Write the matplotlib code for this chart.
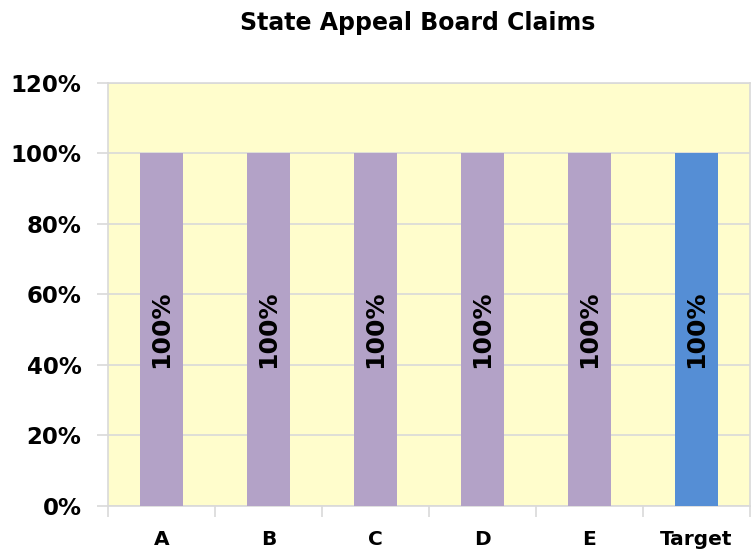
import matplotlib.pyplot as plt
import numpy as np

categories = ["A", "B", "C", "D", "E", "Target"]
values = [100, 100, 100, 100, 100, 100]
bar_colors = ["#B3A2C7", "#B3A2C7", "#B3A2C7", "#B3A2C7", "#B3A2C7", "#558ED5"]
y_ticks = [0, 20, 40, 60, 80, 100, 120]

fig = plt.figure(figsize=(7.53, 5.54), dpi=100)
ax = fig.add_axes([0.1434, 0.0866, 0.8526, 0.7641])
ax.set_facecolor("#FFFDCC")

x = np.arange(len(categories))
bars = ax.bar(x, values, width=0.4, color=bar_colors, zorder=3)

for xi, v in zip(x, values):
    ax.text(xi, v / 2, f"{v}%", rotation=90, ha="center", va="center",
            fontsize=18, fontweight="heavy", color="black", zorder=4)

ax.set_xlim(-0.5, len(categories) - 0.5)
ax.set_ylim(0, 120)
ax.set_yticks(y_ticks)
ax.set_yticklabels([f"{t}%" for t in y_ticks], fontsize=16.5, fontweight="heavy")
ax.yaxis.grid(True, color="#D9D9D9", linewidth=1.2, zorder=1)

ax.set_xticks(x)
ax.set_xticklabels(categories, fontsize=14.5, fontweight="heavy")
ax.set_xticks(np.arange(-0.5, len(categories)), minor=True)
ax.tick_params(axis="x", which="major", length=0, pad=17)
ax.tick_params(axis="x", which="minor", length=8, color="#D9D9D9", width=1.2)
ax.tick_params(axis="y", length=8, color="#D9D9D9", width=1.2, pad=11)

for s in ax.spines.values():
    s.set_color("#D9D9D9")
    s.set_linewidth(1.2)

fig.text(0.555, 0.958, "State Appeal Board Claims", ha="center", va="center",
         fontsize=17, fontweight="heavy")

fig.savefig("out.png", dpi=100)
